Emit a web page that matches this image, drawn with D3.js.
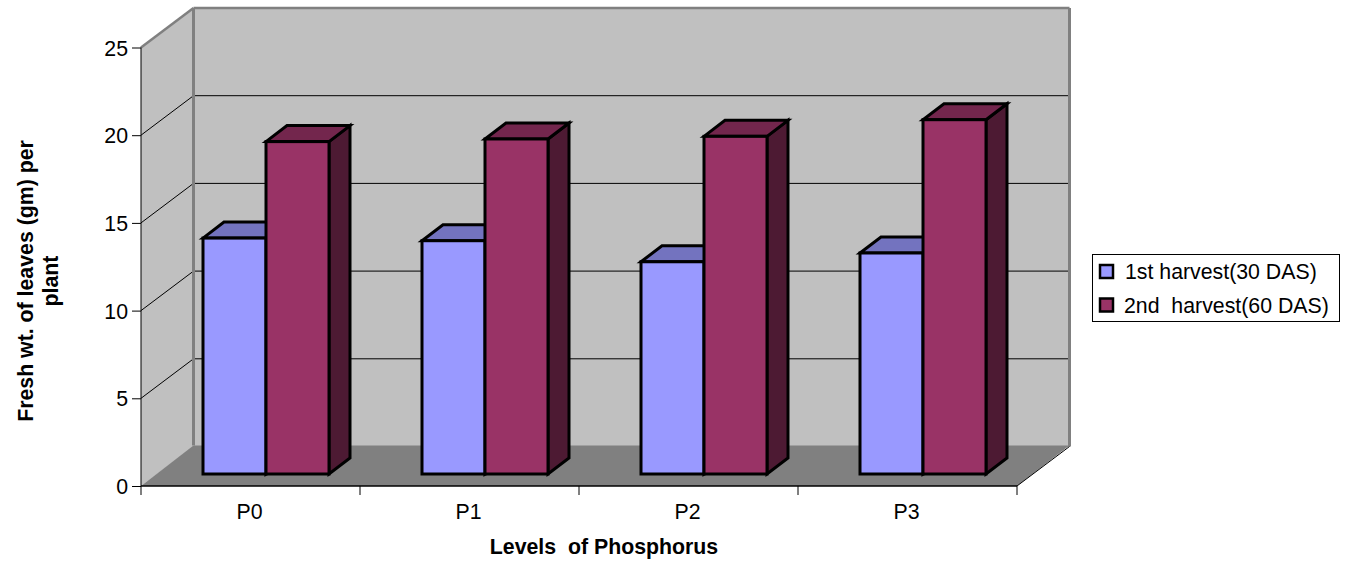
<!DOCTYPE html>
<html><head><meta charset="utf-8">
<script src="https://cdn.jsdelivr.net/npm/d3@7"></script>
<style>html,body{margin:0;background:#fff}svg{display:block}text{font-family:"Liberation Sans",Arial,sans-serif;fill:#000;white-space:pre}</style>
</head><body><svg id="c" width="1346" height="563"></svg>
<script>
const categories=["P0","P1","P2","P3"];
const seriesNames=["1st harvest(30 DAS)","2nd  harvest(60 DAS)"];
const firstHarvest=[13.45,13.3,12.1,12.6];
const secondHarvest=[18.95,19.1,19.25,20.2];
const yTicks=[0,5,10,15,20,25];
const colors=["#9999ff","#993366"],tops=["#7373bf","#73264d"],sides=["#4d4d80","#4d1a33"];
const xTitle="Levels  of Phosphorus",yTitle=["Fresh wt. of leaves (gm) per","plant"];

const svg=d3.select("#c");
const x0=141,x1=1017,yB=486,yT=47.5,dx=52.5,dy=39.5,fs=21.3;
const x=d3.scaleBand().domain(categories).range([x0,x1]);
const y=d3.scaleLinear().domain([0,25]).range([yB,yT]);
const line=(a,b,c,d,col,w)=>svg.append("line").attr("x1",a).attr("y1",b).attr("x2",c).attr("y2",d).attr("stroke",col).attr("stroke-width",w);
const poly=(p,f,s,w)=>svg.append("polygon").attr("points",p.map(q=>q.join(",")).join(" ")).attr("fill",f).attr("stroke",s||"none").attr("stroke-width",w||0).attr("stroke-linejoin","miter");

// walls and floor
const floorTop=yB-dy-1;
poly([[x0+dx,yT-dy],[x1+dx,yT-dy],[x1+dx,yB-dy],[x0+dx,yB-dy]],"#c0c0c0");
poly([[x0,yT],[x0+dx,yT-dy],[x0+dx,yB-dy],[x0,yB]],"#c0c0c0");
// gridlines
yTicks.filter(t=>t>0&&t<25).forEach(t=>{
  line(x0,y(t),x0+dx,y(t)-dy,"#000",1);
  line(x0+dx,y(t)-dy,x1+dx,y(t)-dy,"#000",1);
});
// wall borders
line(x0+dx,floorTop,x0+dx,yT-dy,"#808080",3);
line(x1+dx,floorTop+1,x1+dx,yT-dy,"#808080",3);
line(x0,yT,x0+dx,yT-dy,"#808080",2.5);
line(x0+dx,yT-dy,x1+dx,yT-dy,"#808080",2.5);
poly([[x0,yB],[x0+dx,floorTop],[x1+dx,floorTop],[x1,yB]],"#808080");
line(x1,yB,x1+dx,yB-dy,"#000",1);

// axes
const ax=svg.append("g").attr("transform",`translate(${x0},0)`)
  .call(d3.axisLeft(y).tickValues(yTicks).tickSize(9).tickPadding(4));
ax.select(".domain").remove();
ax.selectAll("line").attr("stroke","#000");
ax.selectAll("text").attr("font-size",fs).attr("dy","0.36em").style("font-family",'"Liberation Sans"');
line(x0,yT,x0,yB+9,"#000",1);
line(x0,yB,x1,yB,"#000",1.5);
categories.forEach((c,i)=>line(x(c)+x.bandwidth(),yB,x(c)+x.bandwidth(),yB+9,"#000",1));
const bx=svg.append("g").attr("transform",`translate(0,${yB})`)
  .call(d3.axisBottom(x).tickSize(0).tickPadding(18));
bx.select(".domain").remove();
bx.selectAll("text").attr("font-size",fs).attr("dx",-1).style("font-family",'"Liberation Sans"');

// bars
const bw=63,off=62,bd=21,bh=16,base=12;
const drawBar=(px,v,si)=>{
  const top=y(v)-base,bot=yB-base;
  poly([[px+bw,top],[px+bw+bd,top-bh],[px+bw+bd,bot-bh],[px+bw,bot]],sides[si],"#000",3);
  poly([[px,top],[px+bd,top-bh],[px+bw+bd,top-bh],[px+bw,top]],tops[si],"#000",3);
  svg.append("rect").attr("x",px).attr("y",top).attr("width",bw).attr("height",bot-top).attr("fill",colors[si]).attr("stroke","#000").attr("stroke-width",3);
};
categories.forEach((c,i)=>{
  drawBar(x(c)+off,firstHarvest[i],0);
  drawBar(x(c)+off+bw,secondHarvest[i],1);
});

// titles
svg.append("text").attr("x",604).attr("y",554).attr("text-anchor","middle").attr("font-size",fs).attr("font-weight","bold").text(xTitle);
yTitle.forEach((t,i)=>svg.append("text").attr("transform",`translate(${33+i*25},281) rotate(-90)`).attr("text-anchor","middle").attr("font-size",fs).attr("font-weight","bold").text(t));

// legend
svg.append("rect").attr("x",1092.5).attr("y",254.5).attr("width",247).attr("height",67).attr("fill","#fff").attr("stroke","#000").attr("stroke-width",1);
seriesNames.forEach((n,i)=>{
  const cy=271.5+i*33.5;
  svg.append("rect").attr("x",1100).attr("y",cy-6.5).attr("width",13).attr("height",13).attr("fill",colors[i]).attr("stroke","#000").attr("stroke-width",2.5);
  svg.append("text").attr("x",i?1124:1125).attr("y",cy+7.5).attr("font-size",fs).text(n);
});
</script></body></html>
